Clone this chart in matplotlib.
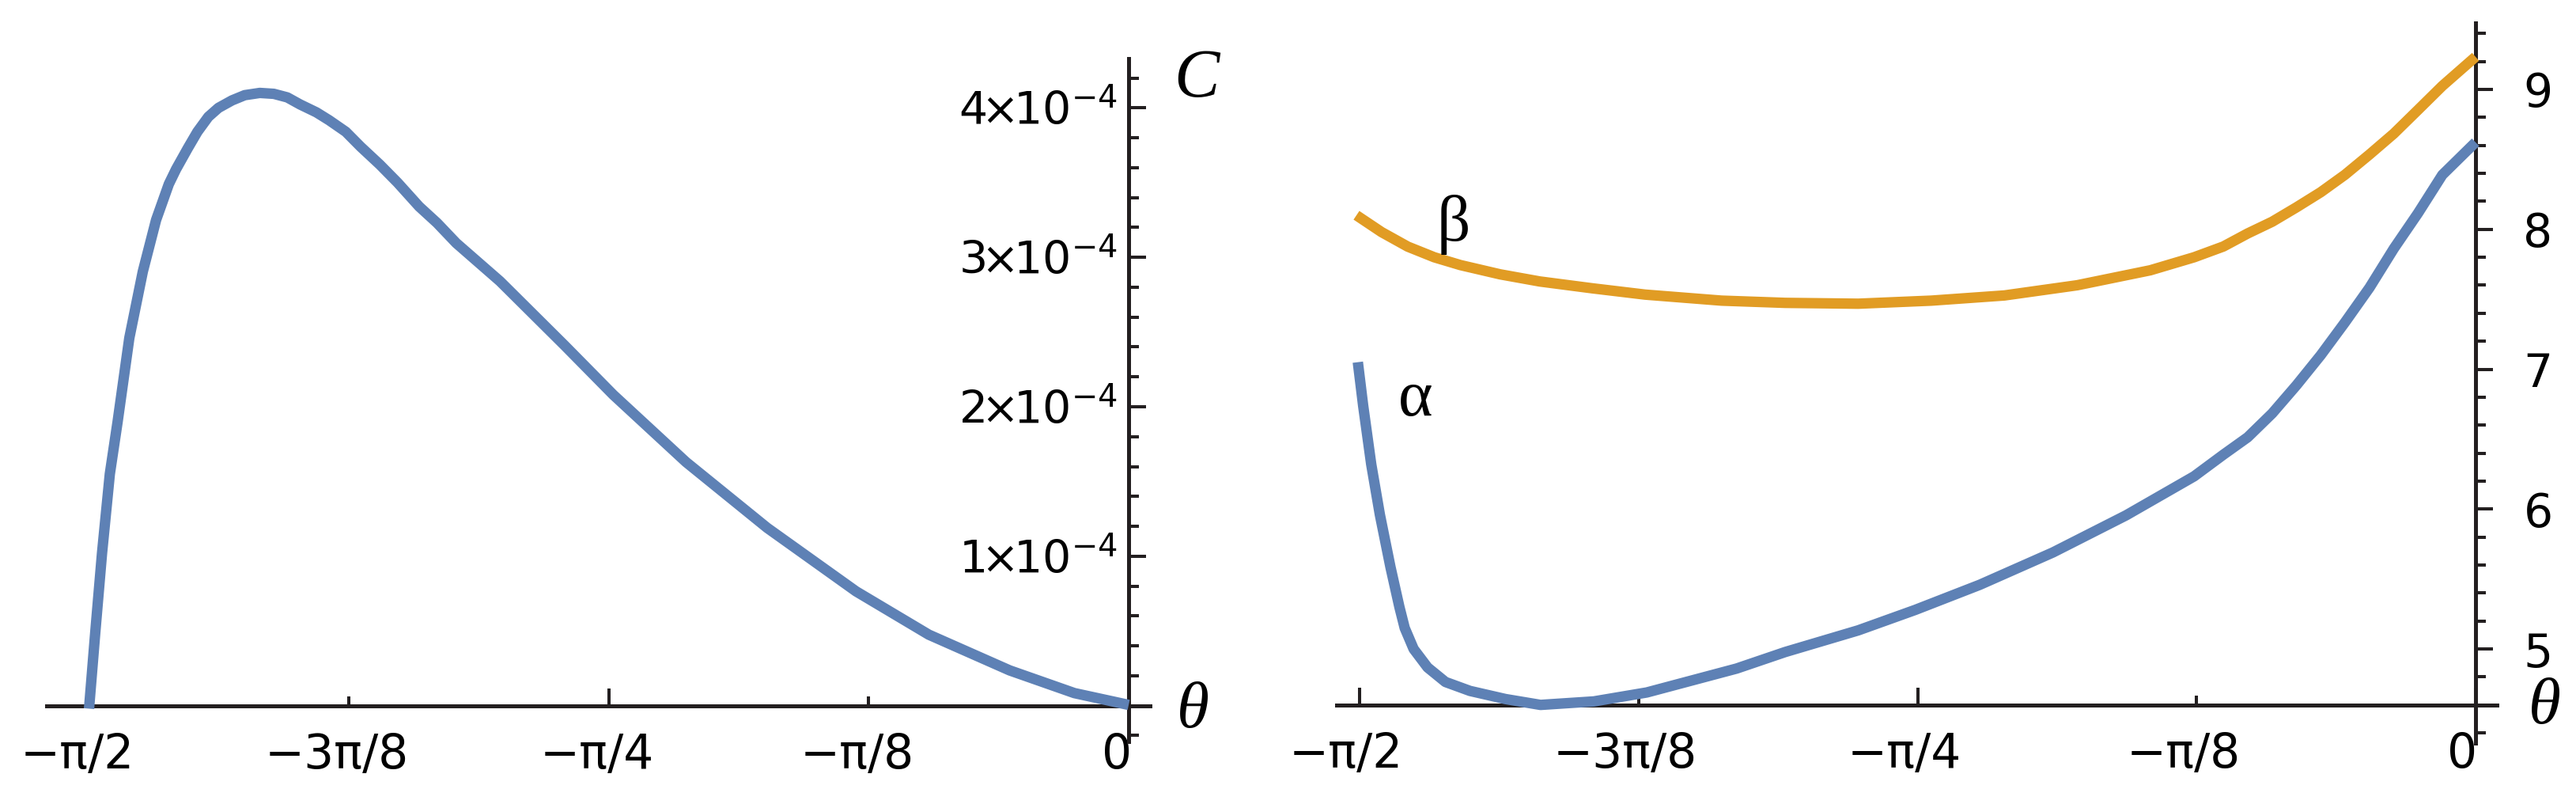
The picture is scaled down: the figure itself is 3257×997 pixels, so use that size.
import numpy as np
import matplotlib
matplotlib.use('Agg')
import matplotlib.pyplot as plt
from matplotlib.ticker import FixedLocator, FixedFormatter
import matplotlib.transforms as mtransforms

W, H, DPI = 3257, 997, 100

# ---------------- data (theta in units of pi/8) ----------------
PI8 = np.pi / 8
theta_C_u = [-4.000, -3.976, -3.950, -3.920, -3.890, -3.845, -3.793, -3.742,
             -3.693, -3.665, -3.620, -3.583, -3.541, -3.502, -3.450, -3.401,
             -3.343, -3.289, -3.237, -3.188, -3.125, -3.076, -3.012, -2.955,
             -2.881, -2.813, -2.730, -2.661, -2.587, -2.419, -2.170, -1.983,
             -1.703, -1.391, -1.049, -0.769, -0.458, -0.209, 0.000]
C_vals_e4 = [-0.02, 0.49, 1.02, 1.55, 1.90, 2.46, 2.905, 3.25,
             3.49, 3.59, 3.73, 3.84, 3.94, 4.00, 4.05, 4.085,
             4.10, 4.094, 4.07, 4.023, 3.97, 3.917, 3.84, 3.74,
             3.62, 3.50, 3.34, 3.23, 3.095, 2.84, 2.41, 2.08,
             1.63, 1.19, 0.765, 0.475, 0.236, 0.084, 0.005]

theta_alpha_u = [-4.007, -3.988, -3.959, -3.928, -3.890, -3.858, -3.839, -3.807,
                 -3.757, -3.693, -3.605, -3.478, -3.352, -3.161, -2.971, -2.649,
                 -2.475, -2.213, -2.009, -1.777, -1.515, -1.253, -1.009, -0.904,
                 -0.817, -0.729, -0.642, -0.555, -0.468, -0.380, -0.293, -0.206,
                 -0.119, 0.000]
alpha_vals = [7.05, 6.74, 6.32, 5.96, 5.585, 5.30, 5.15, 5.00,
              4.868, 4.764, 4.70, 4.642, 4.600, 4.625, 4.689, 4.86,
              4.978, 5.133, 5.279, 5.459, 5.69, 5.955, 6.234, 6.389,
              6.513, 6.684, 6.885, 7.10, 7.335, 7.583, 7.862, 8.116,
              8.389, 8.622]

theta_beta_u = [-4.012, -3.922, -3.828, -3.733, -3.639, -3.497, -3.355, -3.166,
                -2.977, -2.703, -2.475, -2.213, -1.951, -1.689, -1.428, -1.166,
                -1.009, -0.904, -0.817, -0.729, -0.642, -0.555, -0.468, -0.380,
                -0.293, -0.206, -0.119, 0.000]
beta_vals = [8.10, 7.98, 7.876, 7.80, 7.744, 7.678, 7.627, 7.578,
             7.533, 7.49, 7.474, 7.468, 7.49, 7.527, 7.60, 7.707,
             7.80, 7.877, 7.97, 8.054, 8.157, 8.265, 8.39, 8.535,
             8.684, 8.854, 9.025, 9.233]

x_major_ticks = [-np.pi / 2, -np.pi / 4, 0.0]
x_major_labels = ['\u2212\u03c0/2', '\u2212\u03c0/4', '0']
x_minor_ticks = [-3 * np.pi / 8, -np.pi / 8]
x_minor_labels = ['\u22123\u03c0/8', '\u2212\u03c0/8']

C_major_ticks = [1e-4, 2e-4, 3e-4, 4e-4]
C_major_labels = [r'$1\!\!\times\!\!10^{-4}$', r'$2\!\!\times\!\!10^{-4}$',
                  r'$3\!\!\times\!\!10^{-4}$', r'$4\!\!\times\!\!10^{-4}$']
C_minor_ticks = [k * 0.2e-4 for k in range(-1, 22) if k % 5 != 0]

ab_major_ticks = [5, 6, 7, 8, 9]
ab_major_labels = ['5', '6', '7', '8', '9']
ab_minor_ticks = [round(4.4 + 0.2 * k, 1) for k in range(26)]
ab_minor_ticks = [v for v in ab_minor_ticks if abs(v - round(v)) > 1e-6 and abs(v - 4.6) > 1e-6]

# ---------------- style ----------------
BLUE = '#5E81B5'
ORANGE = '#E19C24'
AX = '#231F20'
plt.rcParams['font.family'] = ['DejaVu Sans']
plt.rcParams['mathtext.fontset'] = 'dejavusans'
XTICK_FS = 43
YTICK_FS = 41
LBL_FS = 62
SERIF = ['Liberation Serif', 'DejaVu Serif']
LW = 9.5

fig = plt.figure(figsize=(W / DPI, H / DPI), dpi=DPI)
fig.patch.set_facecolor('white')


def frac_rect(x0, y0, x1, y1):
    return [x0 / W, 1 - y1 / H, (x1 - x0) / W, (y1 - y0) / H]


def shift_labels(ax, fig, dx_neg, dx_zero):
    for t in ax.xaxis.get_major_ticks() + ax.xaxis.get_minor_ticks():
        lab = t.label1
        txt = lab.get_text()
        dx = dx_zero if txt == '0' else dx_neg
        lab.set_transform(lab.get_transform() +
                          mtransforms.ScaledTranslation(dx / DPI, 0, fig.dpi_scale_trans))


def style_common(ax):
    for s in ax.spines.values():
        s.set_color(AX)
        s.set_linewidth(3.6)
    ax.tick_params(which='both', color=AX, width=2.9, labelcolor='black')
    ax.tick_params(axis='x', which='both', labelsize=XTICK_FS)
    ax.tick_params(axis='y', which='both', labelsize=YTICK_FS)
    ax.tick_params(which='major', length=15.5)
    ax.tick_params(which='minor', length=9)
    ax.patch.set_alpha(0)


# ---------------- left panel ----------------
ax1 = fig.add_axes(frac_rect(59, 74, 1454, 937))
ax1.plot(np.array(theta_C_u) * PI8, np.array(C_vals_e4) * 1e-4, color=BLUE, lw=LW,
         solid_capstyle='butt', solid_joinstyle='round', zorder=3, clip_on=False)
ax1.set_xlim(-4.163 * PI8, 0.082 * PI8)
ax1.set_ylim(-0.24e-4, 4.33e-4)
ax1.spines['top'].set_visible(False)
ax1.spines['right'].set_visible(False)
ax1.spines['left'].set_position(('data', 0))
ax1.spines['bottom'].set_position(('data', 0))
style_common(ax1)
ax1.xaxis.set_major_locator(FixedLocator(x_major_ticks))
ax1.xaxis.set_major_formatter(FixedFormatter(x_major_labels))
ax1.xaxis.set_minor_locator(FixedLocator(x_minor_ticks))
ax1.xaxis.set_minor_formatter(FixedFormatter(x_minor_labels))
ax1.yaxis.set_major_locator(FixedLocator(C_major_ticks))
ax1.yaxis.set_major_formatter(FixedFormatter(C_major_labels))
ax1.yaxis.set_minor_locator(FixedLocator(C_minor_ticks))
ax1.tick_params(axis='x', which='both', direction='in', pad=24)
ax1.tick_params(axis='y', which='both', direction='in', pad=10)
shift_labels(ax1, fig, -15, -42)

fig.text(1513 / W, 1 - 101 / H, 'C', fontsize=LBL_FS, family=SERIF, style='italic',
         ha='center', va='center')
fig.text(1508 / W, 1 - 899 / H, '\u03b8', fontsize=LBL_FS - 2, family=SERIF, style='italic',
         ha='center', va='center')

# ---------------- right panel ----------------
ax2 = fig.add_axes(frac_rect(1690, 29, 3157, 939))
ax2.plot(np.array(theta_beta_u) * PI8, beta_vals, color=ORANGE, lw=LW,
         solid_capstyle='butt', solid_joinstyle='round', zorder=3, clip_on=False)
ax2.plot(np.array(theta_alpha_u) * PI8, alpha_vals, color=BLUE, lw=LW,
         solid_capstyle='butt', solid_joinstyle='round', zorder=3, clip_on=False)
ax2.set_xlim(-4.083 * PI8, 0.0766 * PI8)
ax2.set_ylim(4.327, 9.475)
ax2.spines['top'].set_visible(False)
ax2.spines['left'].set_visible(False)
ax2.spines['right'].set_position(('data', 0))
ax2.spines['bottom'].set_position(('data', 4.6))
ax2.yaxis.tick_right()
style_common(ax2)
ax2.tick_params(axis='y', which='both', labelsize=XTICK_FS - 1)
ax2.xaxis.set_major_locator(FixedLocator(x_major_ticks))
ax2.xaxis.set_major_formatter(FixedFormatter(x_major_labels))
ax2.xaxis.set_minor_locator(FixedLocator(x_minor_ticks))
ax2.xaxis.set_minor_formatter(FixedFormatter(x_minor_labels))
ax2.yaxis.set_major_locator(FixedLocator(ab_major_ticks))
ax2.yaxis.set_major_formatter(FixedFormatter(ab_major_labels))
ax2.yaxis.set_minor_locator(FixedLocator(ab_minor_ticks))
ax2.tick_params(axis='x', which='both', direction='in', pad=24)
ax2.tick_params(axis='y', which='both', direction='out', pad=28)
shift_labels(ax2, fig, -17, -41)

ax2.text(-3.663 * PI8, 8.035, '\u03b2', fontsize=60, family=SERIF, ha='center', va='center')
ax2.text(-3.80 * PI8, 6.78, '\u03b1', fontsize=60, family=SERIF, ha='center', va='center')
fig.text(3217 / W, 1 - 894 / H, '\u03b8', fontsize=LBL_FS - 2, family=SERIF, style='italic',
         ha='center', va='center')

fig.savefig('out.png', dpi=DPI, facecolor='white')
